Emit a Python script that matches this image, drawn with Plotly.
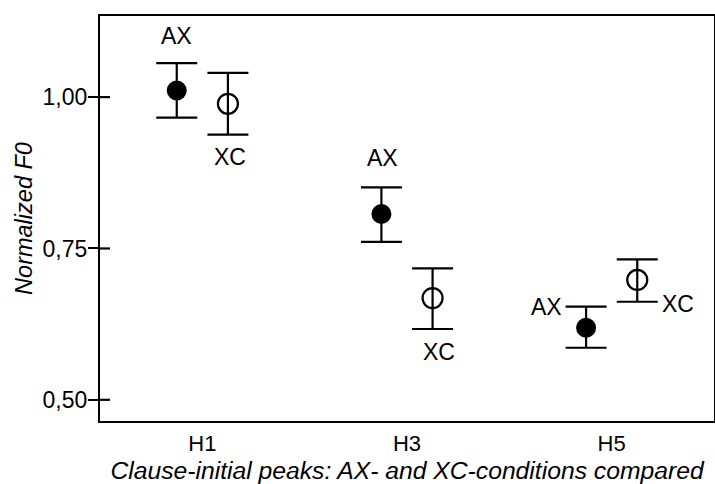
import plotly.graph_objects as go

categories = ["H1", "H3", "H5"]
ax_mean = [1.011, 0.807, 0.619]
ax_upper = [1.056, 0.851, 0.654]
ax_lower = [0.966, 0.761, 0.586]
xc_mean = [0.989, 0.668, 0.698]
xc_upper = [1.040, 0.717, 0.732]
xc_lower = [0.938, 0.617, 0.662]
y_tickvals = [0.50, 0.75, 1.00]
y_ticktext = ["0,50", "0,75", "1,00"]

FONT = "Liberation Sans, Arial, sans-serif"
OFF = 0.125
Y_RANGE = [0.465, 1.134]
idx = list(range(len(categories)))
ax_x = [i - OFF for i in idx]
xc_x = [i + OFF for i in idx]

fig = go.Figure()

fig.add_trace(go.Scatter(
    x=ax_x, y=ax_mean, mode="markers", name="AX",
    marker=dict(symbol="circle", size=20, color="black"),
    error_y=dict(type="data", symmetric=False,
                 array=[u - m for u, m in zip(ax_upper, ax_mean)],
                 arrayminus=[m - l for l, m in zip(ax_lower, ax_mean)],
                 color="black", thickness=2.2, width=20.5),
    showlegend=False))

fig.add_trace(go.Scatter(
    x=xc_x, y=xc_mean, mode="markers", name="XC",
    marker=dict(symbol="circle-open", size=20, color="black", line=dict(width=2.2)),
    error_y=dict(type="data", symmetric=False,
                 array=[u - m for u, m in zip(xc_upper, xc_mean)],
                 arrayminus=[m - l for l, m in zip(xc_lower, xc_mean)],
                 color="black", thickness=2.2, width=20.5),
    showlegend=False))

# inner part of the y tick marks (ticks cross the axis line)
for tv in y_tickvals:
    fig.add_shape(type="line", xref="paper", yref="y", xsizemode="pixel", xanchor=0,
                  x0=0, x1=10, y0=tv, y1=tv, line=dict(color="black", width=2.2))

# condition labels: (series, index, anchor, xshift, yshift)
label_specs = [
    ("AX", 0, "top", 0, 27),
    ("XC", 0, "bottom", 2, -22),
    ("AX", 1, "top", 1, 29),
    ("XC", 1, "bottom", 6, -23),
    ("AX", 2, "top", -40, 0),
    ("XC", 2, "bottom", 41, -2),
]
for name, i, where, xs, ys in label_specs:
    if name == "AX":
        xv = ax_x[i]
        yv = ax_upper[i] if where == "top" else ax_lower[i]
    else:
        xv = xc_x[i]
        yv = xc_upper[i] if where == "top" else xc_lower[i]
    fig.add_annotation(x=xv, y=yv, text=name, showarrow=False,
                       xshift=xs, yshift=ys,
                       font=dict(family=FONT, size=23, color="black"))

fig.update_layout(
    width=715, height=484,
    margin=dict(l=100, r=1, t=16, b=63),
    paper_bgcolor="white", plot_bgcolor="white",
    font=dict(family=FONT, color="black"),
    xaxis=dict(
        range=[-0.5, 2.5], tickvals=idx, ticktext=categories,
        showgrid=False, zeroline=False, showline=True, mirror=True,
        linecolor="black", linewidth=2.2, ticks="", automargin=False,
        tickfont=dict(family=FONT, size=22, color="black"),
        ticklabelstandoff=1,
        title=dict(text="<i>Clause-initial peaks: AX- and XC-conditions compared</i>",
                   font=dict(family=FONT, size=24.7, color="black"), standoff=18),
    ),
    yaxis=dict(
        range=Y_RANGE, tickvals=y_tickvals, ticktext=y_ticktext,
        showgrid=False, zeroline=False, showline=True, mirror=True,
        linecolor="black", linewidth=2.2, ticks="outside", ticklen=10,
        tickwidth=2.2, tickcolor="black", automargin=False,
        tickfont=dict(family=FONT, size=23, color="black"),
        ticklabelstandoff=-4,
        title=dict(text="<i>Normalized F0</i>",
                   font=dict(family=FONT, size=23.5, color="black"), standoff=3),
    ),
)

fig.write_html("out.html")
